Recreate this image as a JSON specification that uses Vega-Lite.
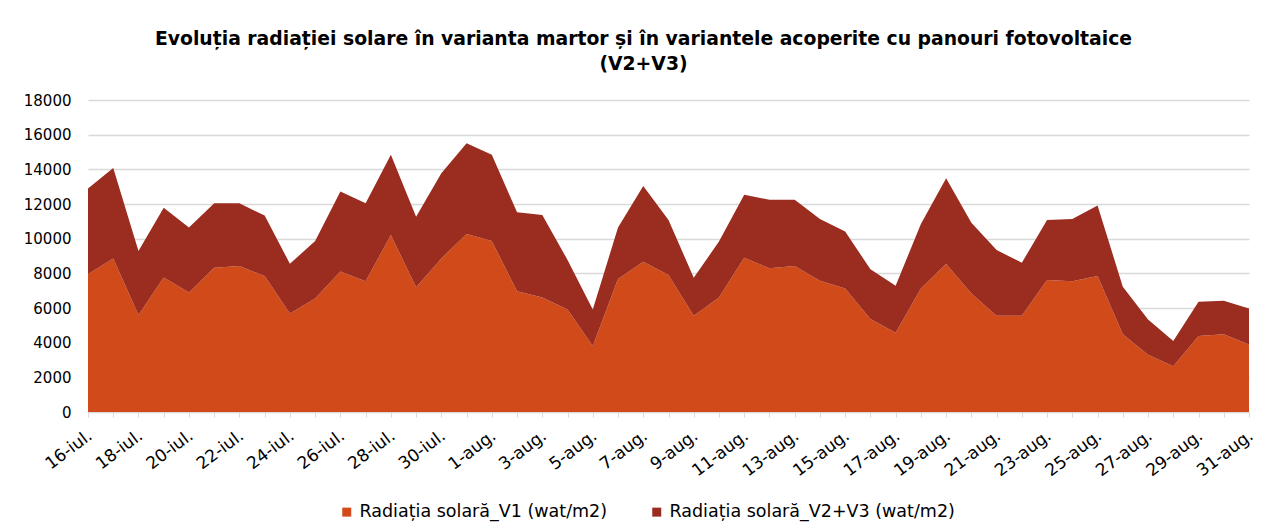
{
  "$schema": "https://vega.github.io/schema/vega-lite/v6.json",
  "autosize": "none",
  "width": 1161,
  "height": 312,
  "padding": {"left": 88, "top": 100, "right": 21, "bottom": 119},
  "background": "white",
  "title": {
    "text": ["Evoluția radiației solare în varianta martor și în variantele acoperite cu panouri fotovoltaice", "(V2+V3)"],
    "font": "DejaVu Sans",
    "fontSize": 18.8,
    "fontWeight": "bold",
    "color": "#000000",
    "anchor": "middle",
    "dx": -25,
    "offset": 19,
    "lineHeight": 25
  },
  "data": {
    "values": [
      {"zi": "16-iul.", "nr": 0, "serie": "Radiația solară_V1 (wat/m2)", "valoare": 7950},
      {"zi": "17-iul.", "nr": 1, "serie": "Radiația solară_V1 (wat/m2)", "valoare": 8860},
      {"zi": "18-iul.", "nr": 2, "serie": "Radiația solară_V1 (wat/m2)", "valoare": 5590},
      {"zi": "19-iul.", "nr": 3, "serie": "Radiația solară_V1 (wat/m2)", "valoare": 7760},
      {"zi": "20-iul.", "nr": 4, "serie": "Radiația solară_V1 (wat/m2)", "valoare": 6900},
      {"zi": "21-iul.", "nr": 5, "serie": "Radiația solară_V1 (wat/m2)", "valoare": 8320},
      {"zi": "22-iul.", "nr": 6, "serie": "Radiația solară_V1 (wat/m2)", "valoare": 8420},
      {"zi": "23-iul.", "nr": 7, "serie": "Radiația solară_V1 (wat/m2)", "valoare": 7840},
      {"zi": "24-iul.", "nr": 8, "serie": "Radiația solară_V1 (wat/m2)", "valoare": 5680},
      {"zi": "25-iul.", "nr": 9, "serie": "Radiația solară_V1 (wat/m2)", "valoare": 6550},
      {"zi": "26-iul.", "nr": 10, "serie": "Radiația solară_V1 (wat/m2)", "valoare": 8110},
      {"zi": "27-iul.", "nr": 11, "serie": "Radiația solară_V1 (wat/m2)", "valoare": 7550},
      {"zi": "28-iul.", "nr": 12, "serie": "Radiația solară_V1 (wat/m2)", "valoare": 10210},
      {"zi": "29-iul.", "nr": 13, "serie": "Radiația solară_V1 (wat/m2)", "valoare": 7190},
      {"zi": "30-iul.", "nr": 14, "serie": "Radiația solară_V1 (wat/m2)", "valoare": 8860},
      {"zi": "31-iul.", "nr": 15, "serie": "Radiația solară_V1 (wat/m2)", "valoare": 10270},
      {"zi": "1-aug.", "nr": 16, "serie": "Radiația solară_V1 (wat/m2)", "valoare": 9860},
      {"zi": "2-aug.", "nr": 17, "serie": "Radiația solară_V1 (wat/m2)", "valoare": 6970},
      {"zi": "3-aug.", "nr": 18, "serie": "Radiația solară_V1 (wat/m2)", "valoare": 6610},
      {"zi": "4-aug.", "nr": 19, "serie": "Radiația solară_V1 (wat/m2)", "valoare": 5920},
      {"zi": "5-aug.", "nr": 20, "serie": "Radiația solară_V1 (wat/m2)", "valoare": 3810},
      {"zi": "6-aug.", "nr": 21, "serie": "Radiația solară_V1 (wat/m2)", "valoare": 7670},
      {"zi": "7-aug.", "nr": 22, "serie": "Radiația solară_V1 (wat/m2)", "valoare": 8670},
      {"zi": "8-aug.", "nr": 23, "serie": "Radiația solară_V1 (wat/m2)", "valoare": 7900},
      {"zi": "9-aug.", "nr": 24, "serie": "Radiația solară_V1 (wat/m2)", "valoare": 5550},
      {"zi": "10-aug.", "nr": 25, "serie": "Radiația solară_V1 (wat/m2)", "valoare": 6610},
      {"zi": "11-aug.", "nr": 26, "serie": "Radiația solară_V1 (wat/m2)", "valoare": 8900},
      {"zi": "12-aug.", "nr": 27, "serie": "Radiația solară_V1 (wat/m2)", "valoare": 8290},
      {"zi": "13-aug.", "nr": 28, "serie": "Radiația solară_V1 (wat/m2)", "valoare": 8420},
      {"zi": "14-aug.", "nr": 29, "serie": "Radiația solară_V1 (wat/m2)", "valoare": 7570},
      {"zi": "15-aug.", "nr": 30, "serie": "Radiația solară_V1 (wat/m2)", "valoare": 7130},
      {"zi": "16-aug.", "nr": 31, "serie": "Radiația solară_V1 (wat/m2)", "valoare": 5360},
      {"zi": "17-aug.", "nr": 32, "serie": "Radiația solară_V1 (wat/m2)", "valoare": 4570},
      {"zi": "18-aug.", "nr": 33, "serie": "Radiația solară_V1 (wat/m2)", "valoare": 7130},
      {"zi": "19-aug.", "nr": 34, "serie": "Radiația solară_V1 (wat/m2)", "valoare": 8540},
      {"zi": "20-aug.", "nr": 35, "serie": "Radiația solară_V1 (wat/m2)", "valoare": 6840},
      {"zi": "21-aug.", "nr": 36, "serie": "Radiația solară_V1 (wat/m2)", "valoare": 5550},
      {"zi": "22-aug.", "nr": 37, "serie": "Radiația solară_V1 (wat/m2)", "valoare": 5550},
      {"zi": "23-aug.", "nr": 38, "serie": "Radiația solară_V1 (wat/m2)", "valoare": 7610},
      {"zi": "24-aug.", "nr": 39, "serie": "Radiația solară_V1 (wat/m2)", "valoare": 7550},
      {"zi": "25-aug.", "nr": 40, "serie": "Radiația solară_V1 (wat/m2)", "valoare": 7840},
      {"zi": "26-aug.", "nr": 41, "serie": "Radiația solară_V1 (wat/m2)", "valoare": 4490},
      {"zi": "27-aug.", "nr": 42, "serie": "Radiația solară_V1 (wat/m2)", "valoare": 3310},
      {"zi": "28-aug.", "nr": 43, "serie": "Radiația solară_V1 (wat/m2)", "valoare": 2640},
      {"zi": "29-aug.", "nr": 44, "serie": "Radiația solară_V1 (wat/m2)", "valoare": 4390},
      {"zi": "30-aug.", "nr": 45, "serie": "Radiația solară_V1 (wat/m2)", "valoare": 4490},
      {"zi": "31-aug.", "nr": 46, "serie": "Radiația solară_V1 (wat/m2)", "valoare": 3890},
      {"zi": "16-iul.", "nr": 0, "serie": "Radiația solară_V2+V3 (wat/m2)", "valoare": 4950},
      {"zi": "17-iul.", "nr": 1, "serie": "Radiația solară_V2+V3 (wat/m2)", "valoare": 5210},
      {"zi": "18-iul.", "nr": 2, "serie": "Radiația solară_V2+V3 (wat/m2)", "valoare": 3700},
      {"zi": "19-iul.", "nr": 3, "serie": "Radiația solară_V2+V3 (wat/m2)", "valoare": 4030},
      {"zi": "20-iul.", "nr": 4, "serie": "Radiația solară_V2+V3 (wat/m2)", "valoare": 3750},
      {"zi": "21-iul.", "nr": 5, "serie": "Radiația solară_V2+V3 (wat/m2)", "valoare": 3720},
      {"zi": "22-iul.", "nr": 6, "serie": "Radiația solară_V2+V3 (wat/m2)", "valoare": 3620},
      {"zi": "23-iul.", "nr": 7, "serie": "Radiația solară_V2+V3 (wat/m2)", "valoare": 3490},
      {"zi": "24-iul.", "nr": 8, "serie": "Radiația solară_V2+V3 (wat/m2)", "valoare": 2870},
      {"zi": "25-iul.", "nr": 9, "serie": "Radiația solară_V2+V3 (wat/m2)", "valoare": 3310},
      {"zi": "26-iul.", "nr": 10, "serie": "Radiația solară_V2+V3 (wat/m2)", "valoare": 4610},
      {"zi": "27-iul.", "nr": 11, "serie": "Radiația solară_V2+V3 (wat/m2)", "valoare": 4490},
      {"zi": "28-iul.", "nr": 12, "serie": "Radiația solară_V2+V3 (wat/m2)", "valoare": 4630},
      {"zi": "29-iul.", "nr": 13, "serie": "Radiația solară_V2+V3 (wat/m2)", "valoare": 4080},
      {"zi": "30-iul.", "nr": 14, "serie": "Radiația solară_V2+V3 (wat/m2)", "valoare": 4920},
      {"zi": "31-iul.", "nr": 15, "serie": "Radiația solară_V2+V3 (wat/m2)", "valoare": 5240},
      {"zi": "1-aug.", "nr": 16, "serie": "Radiația solară_V2+V3 (wat/m2)", "valoare": 4980},
      {"zi": "2-aug.", "nr": 17, "serie": "Radiația solară_V2+V3 (wat/m2)", "valoare": 4550},
      {"zi": "3-aug.", "nr": 18, "serie": "Radiația solară_V2+V3 (wat/m2)", "valoare": 4760},
      {"zi": "4-aug.", "nr": 19, "serie": "Radiația solară_V2+V3 (wat/m2)", "valoare": 2850},
      {"zi": "5-aug.", "nr": 20, "serie": "Radiația solară_V2+V3 (wat/m2)", "valoare": 2110},
      {"zi": "6-aug.", "nr": 21, "serie": "Radiația solară_V2+V3 (wat/m2)", "valoare": 2970},
      {"zi": "7-aug.", "nr": 22, "serie": "Radiația solară_V2+V3 (wat/m2)", "valoare": 4370},
      {"zi": "8-aug.", "nr": 23, "serie": "Radiația solară_V2+V3 (wat/m2)", "valoare": 3180},
      {"zi": "9-aug.", "nr": 24, "serie": "Radiația solară_V2+V3 (wat/m2)", "valoare": 2200},
      {"zi": "10-aug.", "nr": 25, "serie": "Radiația solară_V2+V3 (wat/m2)", "valoare": 3220},
      {"zi": "11-aug.", "nr": 26, "serie": "Radiația solară_V2+V3 (wat/m2)", "valoare": 3640},
      {"zi": "12-aug.", "nr": 27, "serie": "Radiația solară_V2+V3 (wat/m2)", "valoare": 3950},
      {"zi": "13-aug.", "nr": 28, "serie": "Radiația solară_V2+V3 (wat/m2)", "valoare": 3820},
      {"zi": "14-aug.", "nr": 29, "serie": "Radiația solară_V2+V3 (wat/m2)", "valoare": 3570},
      {"zi": "15-aug.", "nr": 30, "serie": "Radiația solară_V2+V3 (wat/m2)", "valoare": 3290},
      {"zi": "16-aug.", "nr": 31, "serie": "Radiația solară_V2+V3 (wat/m2)", "valoare": 2870},
      {"zi": "17-aug.", "nr": 32, "serie": "Radiația solară_V2+V3 (wat/m2)", "valoare": 2710},
      {"zi": "18-aug.", "nr": 33, "serie": "Radiația solară_V2+V3 (wat/m2)", "valoare": 3720},
      {"zi": "19-aug.", "nr": 34, "serie": "Radiația solară_V2+V3 (wat/m2)", "valoare": 4950},
      {"zi": "20-aug.", "nr": 35, "serie": "Radiația solară_V2+V3 (wat/m2)", "valoare": 4080},
      {"zi": "21-aug.", "nr": 36, "serie": "Radiația solară_V2+V3 (wat/m2)", "valoare": 3790},
      {"zi": "22-aug.", "nr": 37, "serie": "Radiația solară_V2+V3 (wat/m2)", "valoare": 3060},
      {"zi": "23-aug.", "nr": 38, "serie": "Radiația solară_V2+V3 (wat/m2)", "valoare": 3470},
      {"zi": "24-aug.", "nr": 39, "serie": "Radiația solară_V2+V3 (wat/m2)", "valoare": 3590},
      {"zi": "25-aug.", "nr": 40, "serie": "Radiația solară_V2+V3 (wat/m2)", "valoare": 4070},
      {"zi": "26-aug.", "nr": 41, "serie": "Radiația solară_V2+V3 (wat/m2)", "valoare": 2740},
      {"zi": "27-aug.", "nr": 42, "serie": "Radiația solară_V2+V3 (wat/m2)", "valoare": 2030},
      {"zi": "28-aug.", "nr": 43, "serie": "Radiația solară_V2+V3 (wat/m2)", "valoare": 1460},
      {"zi": "29-aug.", "nr": 44, "serie": "Radiația solară_V2+V3 (wat/m2)", "valoare": 1970},
      {"zi": "30-aug.", "nr": 45, "serie": "Radiația solară_V2+V3 (wat/m2)", "valoare": 1930},
      {"zi": "31-aug.", "nr": 46, "serie": "Radiația solară_V2+V3 (wat/m2)", "valoare": 2080}
    ]
  },
  "mark": {"type": "area", "line": false, "opacity": 1, "interpolate": "linear"},
  "encoding": {
    "x": {
      "field": "zi",
      "type": "ordinal",
      "sort": {"field": "nr", "op": "min"},
      "scale": {"type": "point", "padding": 0},
      "title": null,
      "axis": {
        "labelAngle": -37,
        "labelFont": "DejaVu Sans",
        "labelFontSize": 17,
        "labelColor": "#000000",
        "labelPadding": 10,
        "labelOffset": -3,
        "domainColor": "#D9D9D9",
        "domainWidth": 1,
        "tickColor": "#D9D9D9",
        "tickSize": 5,
        "grid": false,
        "labelOverlap": false,
        "labelExpr": "indexof(['16-iul.','18-iul.','20-iul.','22-iul.','24-iul.','26-iul.','28-iul.','30-iul.','1-aug.','3-aug.','5-aug.','7-aug.','9-aug.','11-aug.','13-aug.','15-aug.','17-aug.','19-aug.','21-aug.','23-aug.','25-aug.','27-aug.','29-aug.','31-aug.'], datum.value) >= 0 ? datum.value : ''"
      }
    },
    "y": {
      "field": "valoare",
      "type": "quantitative",
      "stack": "zero",
      "scale": {"domain": [0, 18000], "nice": false},
      "title": null,
      "axis": {
        "values": [0, 2000, 4000, 6000, 8000, 10000, 12000, 14000, 16000, 18000],
        "format": "d",
        "labelFont": "DejaVu Sans",
        "labelFontSize": 15,
        "labelColor": "#000000",
        "labelPadding": 17,
        "domain": false,
        "ticks": false,
        "gridColor": "#D9D9D9",
        "gridWidth": 1.5
      }
    },
    "color": {
      "field": "serie",
      "type": "nominal",
      "scale": {
        "domain": ["Radiația solară_V1 (wat/m2)", "Radiația solară_V2+V3 (wat/m2)"],
        "range": ["#D14A19", "#9A2C20"]
      },
      "legend": {
        "title": null,
        "orient": "none",
        "direction": "horizontal",
        "legendX": 250,
        "legendY": 403,
        "symbolType": "square",
        "symbolSize": 81,
        "symbolStrokeWidth": 0,
        "labelFont": "DejaVu Sans",
        "labelFontSize": 17.5,
        "labelColor": "#000000",
        "labelLimit": 0,
        "labelOffset": 4,
        "columnPadding": 40
      }
    },
    "order": {"field": "serie", "type": "nominal", "sort": "ascending"}
  },
  "config": {
    "view": {"stroke": null}
  }
}
